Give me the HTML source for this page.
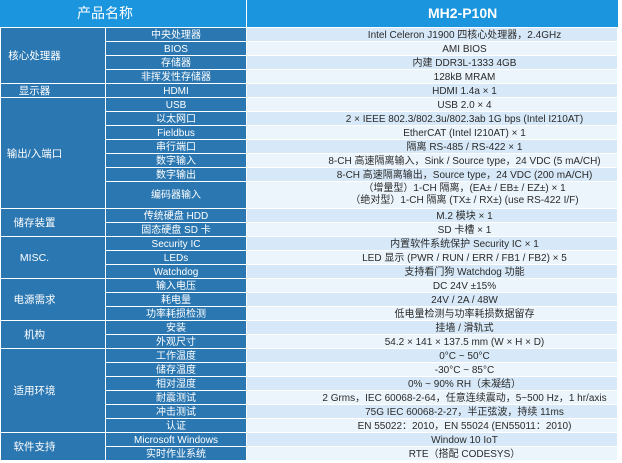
<!DOCTYPE html>
<html><head><meta charset="utf-8">
<style>
html,body{margin:0;padding:0;background:#fff;}
body{width:622px;height:463px;position:relative;overflow:hidden;font-family:"Liberation Sans","Noto Sans CJK SC",sans-serif;}
.h{position:absolute;top:0;height:27px;background:#1b95de;color:#fff;line-height:27px;font-size:14px;white-space:nowrap;}
.c1,.c2,.c3{position:absolute;box-sizing:border-box;border-top:1px solid #fff;text-align:center;white-space:nowrap;}
.c1{left:1px;width:104px;background:#2b77b1;color:#fff;font-size:10.5px;padding-right:37px;display:flex;align-items:center;justify-content:center;line-height:12px;padding-top:1px;}
.c2{left:106px;width:140px;background:#2b77b1;color:#fff;font-size:10px;height:14px;line-height:13px;padding-top:1px;}
.c3{left:247px;width:370px;color:#2a2a2a;font-size:10px;padding-left:65px;height:14px;line-height:13px;padding-top:1px;}
.a{background:#d7e9f8;}
.b{background:#ecf5fc;}
</style></head><body>
<div class="h" style="left:0;width:246px;"><span style="position:absolute;left:77px;top:0;">产品名称</span></div>
<div class="h" style="left:247px;width:371px;font-weight:bold;"><span style="position:absolute;left:181px;top:0;">MH2-P10N</span></div>

<div class="c1" style="top:27px;height:56px;">核心处理器</div>
<div class="c1" style="top:83px;height:14px;">显示器</div>
<div class="c1" style="top:97px;height:111px;">输出/入端口</div>
<div class="c1" style="top:208px;height:28px;">储存装置</div>
<div class="c1" style="top:236px;height:42px;">MISC.</div>
<div class="c1" style="top:278px;height:42px;">电源需求</div>
<div class="c1" style="top:320px;height:28px;">机构</div>
<div class="c1" style="top:348px;height:84px;">适用环境</div>
<div class="c1" style="top:432px;height:28px;">软件支持</div>

<div class="c2" style="top:27px;">中央处理器</div>
<div class="c2" style="top:41px;">BIOS</div>
<div class="c2" style="top:55px;">存储器</div>
<div class="c2" style="top:69px;">非挥发性存储器</div>
<div class="c2" style="top:83px;">HDMI</div>
<div class="c2" style="top:97px;">USB</div>
<div class="c2" style="top:111px;">以太网口</div>
<div class="c2" style="top:125px;">Fieldbus</div>
<div class="c2" style="top:139px;">串行端口</div>
<div class="c2" style="top:153px;">数字输入</div>
<div class="c2" style="top:167px;">数字输出</div>
<div class="c2" style="top:181px;height:27px;line-height:26px;">编码器输入</div>
<div class="c2" style="top:208px;">传统硬盘 HDD</div>
<div class="c2" style="top:222px;">固态硬盘 SD 卡</div>
<div class="c2" style="top:236px;">Security IC</div>
<div class="c2" style="top:250px;">LEDs</div>
<div class="c2" style="top:264px;">Watchdog</div>
<div class="c2" style="top:278px;">输入电压</div>
<div class="c2" style="top:292px;">耗电量</div>
<div class="c2" style="top:306px;">功率耗损检测</div>
<div class="c2" style="top:320px;">安装</div>
<div class="c2" style="top:334px;">外观尺寸</div>
<div class="c2" style="top:348px;">工作温度</div>
<div class="c2" style="top:362px;">储存温度</div>
<div class="c2" style="top:376px;">相对湿度</div>
<div class="c2" style="top:390px;">耐震测试</div>
<div class="c2" style="top:404px;">冲击测试</div>
<div class="c2" style="top:418px;">认证</div>
<div class="c2" style="top:432px;">Microsoft Windows</div>
<div class="c2" style="top:446px;">实时作业系统</div>

<div class="c3 a" style="top:27px;">Intel Celeron J1900 四核心处理器，2.4GHz</div>
<div class="c3 b" style="top:41px;">AMI BIOS</div>
<div class="c3 a" style="top:55px;">内建 DDR3L-1333 4GB</div>
<div class="c3 b" style="top:69px;">128kB MRAM</div>
<div class="c3 a" style="top:83px;">HDMI 1.4a × 1</div>
<div class="c3 b" style="top:97px;">USB 2.0 × 4</div>
<div class="c3 a" style="top:111px;">2 × IEEE 802.3/802.3u/802.3ab 1G bps (Intel I210AT)</div>
<div class="c3 b" style="top:125px;">EtherCAT (Intel I210AT) × 1</div>
<div class="c3 a" style="top:139px;">隔离 RS-485 / RS-422 × 1</div>
<div class="c3 b" style="top:153px;">8-CH 高速隔离输入，Sink / Source type，24 VDC (5 mA/CH)</div>
<div class="c3 a" style="top:167px;">8-CH 高速隔离输出，Source type，24 VDC (200 mA/CH)</div>
<div class="c3 b" style="top:181px;height:27px;line-height:12px;padding-top:1px;">（增量型）1-CH 隔离，(EA± / EB± / EZ±) × 1<br>（绝对型）1-CH 隔离 (TX± / RX±) (use RS-422 I/F)</div>
<div class="c3 a" style="top:208px;">M.2 模块 × 1</div>
<div class="c3 b" style="top:222px;">SD 卡槽 × 1</div>
<div class="c3 a" style="top:236px;">内置软件系统保护 Security IC × 1</div>
<div class="c3 b" style="top:250px;">LED 显示 (PWR / RUN / ERR / FB1 / FB2) × 5</div>
<div class="c3 a" style="top:264px;">支持看门狗 Watchdog 功能</div>
<div class="c3 b" style="top:278px;">DC 24V ±15%</div>
<div class="c3 a" style="top:292px;">24V / 2A / 48W</div>
<div class="c3 b" style="top:306px;">低电量检测与功率耗损数据留存</div>
<div class="c3 a" style="top:320px;">挂墙 / 滑轨式</div>
<div class="c3 b" style="top:334px;">54.2 × 141 × 137.5 mm (W × H × D)</div>
<div class="c3 a" style="top:348px;">0°C ~ 50°C</div>
<div class="c3 b" style="top:362px;">-30°C ~ 85°C</div>
<div class="c3 a" style="top:376px;">0% ~ 90% RH（未凝结）</div>
<div class="c3 b" style="top:390px;">2 Grms，IEC 60068-2-64，任意连续震动，5~500 Hz，1 hr/axis</div>
<div class="c3 a" style="top:404px;">75G IEC 60068-2-27，半正弦波，持续 11ms</div>
<div class="c3 b" style="top:418px;">EN 55022：2010，EN 55024 (EN55011：2010)</div>
<div class="c3 a" style="top:432px;">Window 10 IoT</div>
<div class="c3 b" style="top:446px;">RTE（搭配 CODESYS）</div>
</body></html>
